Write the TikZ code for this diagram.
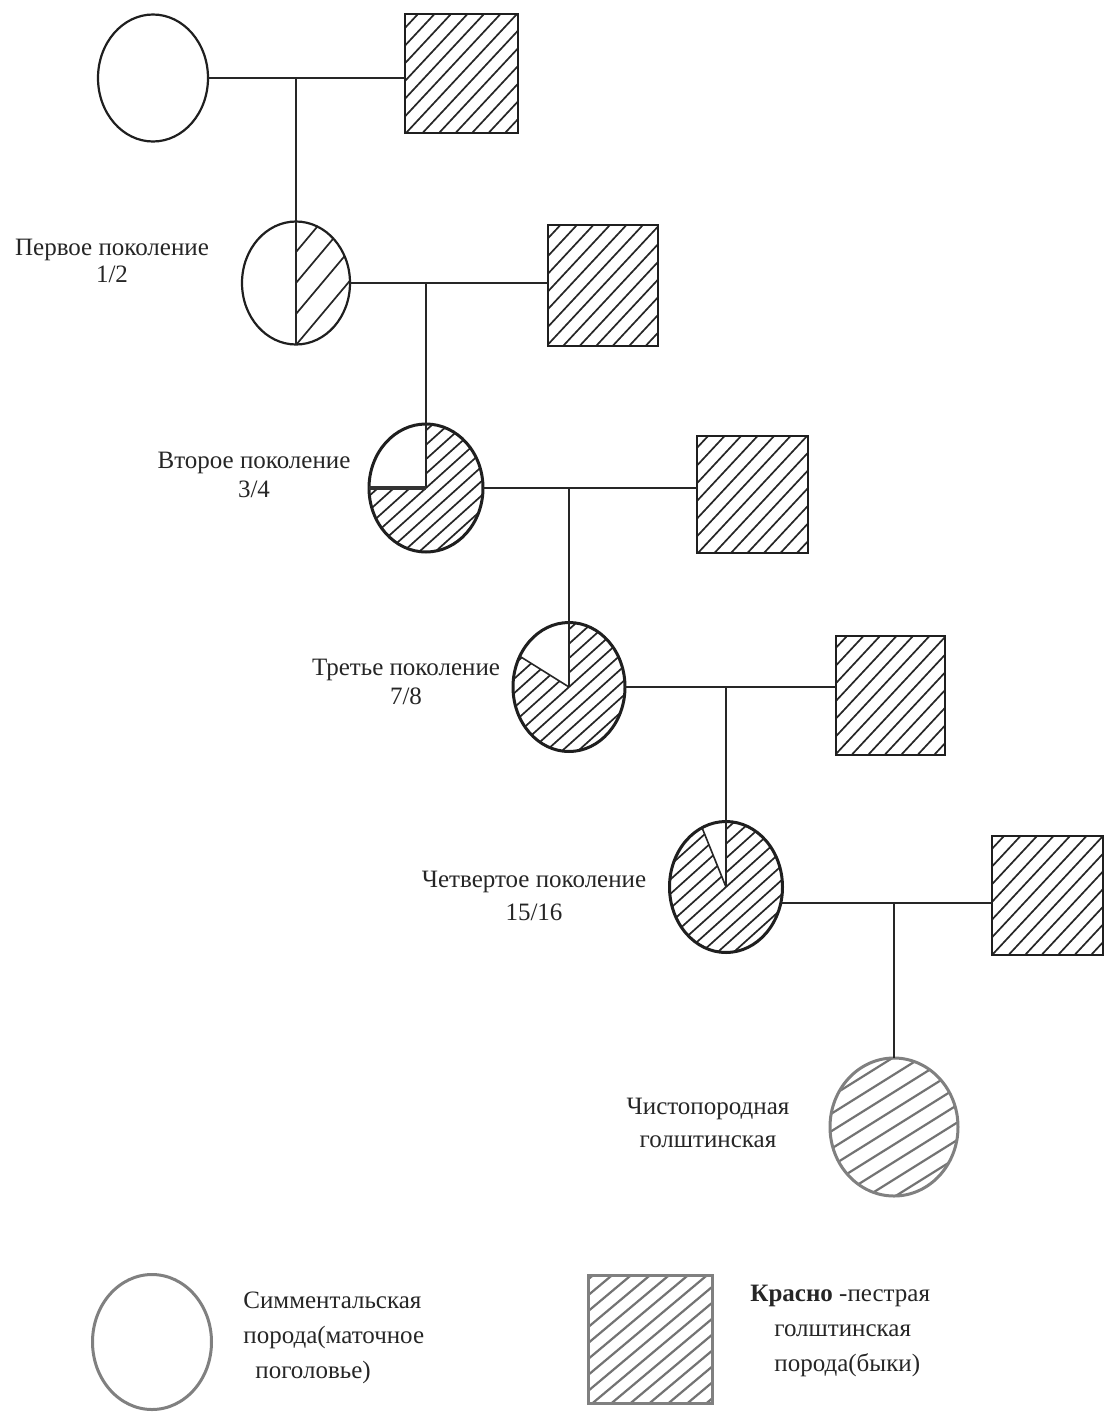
\documentclass[tikz,border=0pt]{standalone}
\usepackage{fontspec}
\setmainfont{Liberation Serif}
\usetikzlibrary{shapes.geometric}
\newcommand\hatchlines{\foreach \k in {-16,...,16}{\draw[line width=\hlw,color=\hcol] (\k*\hsep,0pt) ++(\hang:100pt) -- ++(\hang+180:200pt);}}
\newcommand\hatchclip[1]{\begin{scope}[shift={(path picture bounding box.center)}]\clip #1; \hatchlines\end{scope}}
\tikzset{
  hatchangle/.store in=\hang, hatchsep/.store in=\hsep,
  hatchcol/.store in=\hcol, hatchlw/.store in=\hlw,
  hatchangle=47, hatchsep=8.25pt, hatchcol=black!85, hatchlw=0.85pt,
  fem/.style={ellipse, draw=black!88, line width=1.1pt, inner sep=0pt, outer sep=0pt},
  femthick/.style={fem, line width=1.5pt, hatchangle=42, hatchsep=8pt},
  male/.style={rectangle, draw=black!88, line width=1.1pt, inner sep=0pt, outer sep=0pt},
  grayshape/.style={draw=black!50, line width=1.5pt, hatchcol=black!55, hatchlw=1.1pt},
  hatched/.style={path picture={\hatchclip{(-200pt,-200pt) rectangle (200pt,200pt)}}},
  halfhatch/.style={path picture={\hatchclip{(0pt,-200pt) rectangle (200pt,200pt)}}},
  pie/.style={path picture={\hatchclip{(0pt,0pt) -- (#1:200pt) -- (-200pt,-200pt) -- (200pt,-200pt) -- (200pt,200pt) -- (0pt,200pt) -- cycle}}},
  conn/.style={draw=black!85, line width=0.8pt},
  lbl/.style={text=black!85, align=center, inner sep=0pt},
}
\begin{document}
\begin{tikzpicture}[x=0.5pt,y=-0.5pt]
\useasboundingbox (0,0) rectangle (1107,1414);
\fill[white] (0,0) rectangle (1107,1414);

% generation 0
\node[fem, minimum width=55pt, minimum height=63.5pt] (c0) at (153,78) {};
\node[male, hatched, minimum width=56.5pt, minimum height=59.5pt] (b0) at (461.5,73.5) {};
% generation 1
\node[fem, halfhatch, hatchangle=50, hatchsep=13pt, minimum width=54pt, minimum height=61.5pt] (g1) at (296,283) {};
\node[male, hatched, minimum width=55pt, minimum height=60.5pt] (b1) at (603,285.5) {};
% generation 2
\node[femthick, pie=180, minimum width=57pt, minimum height=64pt] (g2) at (426,488) {};
\node[male, hatched, minimum width=55.5pt, minimum height=58.5pt] (b2) at (752.5,494.5) {};
% generation 3
\node[femthick, pie=148, minimum width=56pt, minimum height=64.5pt] (g3) at (569,687) {};
\node[male, hatched, minimum width=54.5pt, minimum height=59.5pt] (b3) at (890.5,695.5) {};
% generation 4
\node[femthick, pie=112, minimum width=56.5pt, minimum height=65.5pt] (g4) at (726,887) {};
\node[male, hatched, minimum width=55.5pt, minimum height=59.5pt] (b4) at (1047.5,895.5) {};
% purebred
\node[fem, grayshape, hatched, hatchangle=32, hatchsep=14pt, minimum width=64pt, minimum height=69pt] (p) at (894,1127) {};

% connectors
\draw[conn] (c0.east) -- (c0.east -| b0.west);
\coordinate (j0) at (g1.north |- c0.east);
\draw[conn] (j0) -- (g1.north);
\draw[conn] (g1.north) -- (g1.south);

\draw[conn] (g1.east) -- (g1.east -| b1.west);
\coordinate (j1) at (g2.center |- g1.east);
\draw[conn] (j1) -- (g2.center);
\draw[draw=black!80, line width=1.6pt] (g2.west) -- (g2.center);

\draw[conn] (g2.east) -- (g2.east -| b2.west);
\coordinate (j2) at (g3.center |- g2.east);
\draw[conn] (j2) -- (g3.center);
\draw[conn] (g3.center) -- (g3.148);

\draw[conn] (g3.east) -- (g3.east -| b3.west);
\coordinate (j3) at (g4.center |- g3.east);
\draw[conn] (j3) -- (g4.center);
\draw[conn] (g4.center) -- (g4.112);

\draw[conn] (g4.-16) -- (g4.-16 -| b4.west);
\coordinate (j4) at (p.north |- g4.-16);
\draw[conn] (j4) -- (p.north);

% labels
\node[lbl, font=\fontsize{12.5}{13.5}\selectfont] (t1) at (112,261) {Первое поколение\\1/2};
\node[lbl, font=\fontsize{12.5}{14.5}\selectfont] (t2) at (254,475) {Второе поколение\\3/4};
\node[lbl, font=\fontsize{12.5}{14.5}\selectfont] (t3) at (406,682) {Третье поколение\\7/8};
\node[lbl, font=\fontsize{12.5}{16.5}\selectfont] (t4) at (534,896) {Четвертое поколение\\15/16};
\node[lbl, font=\fontsize{12.5}{16.5}\selectfont] (t5) at (708,1123) {Чистопородная\\голштинская};

% legend
\node[fem, grayshape, minimum width=59.5pt, minimum height=67.5pt] (L1) at (152,1342) {};
\node[male, grayshape, hatched, hatchangle=40, hatchsep=9.5pt, minimum width=62pt, minimum height=64pt] (L2) at (650,1339) {};
\node[lbl, align=left, anchor=west, font=\fontsize{12.5}{17.5}\selectfont] (t6) at (243,1338)
  {Симментальская\\порода(маточное\\\hspace*{6pt}поголовье)};
\node[lbl, align=left, anchor=west, font=\fontsize{12.5}{17.5}\selectfont] (t7) at (750,1331)
  {\textbf{Красно} -пестрая\\\hspace*{12pt}голштинская\\\hspace*{12pt}порода(быки)};
\end{tikzpicture}
\end{document}
